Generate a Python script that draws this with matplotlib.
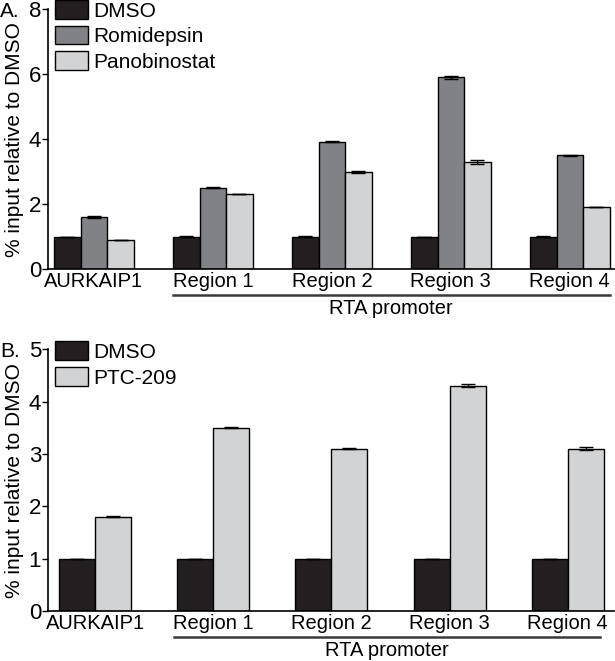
import numpy as np
import matplotlib
matplotlib.use("Agg")
import matplotlib.pyplot as plt
import matplotlib.transforms as mtransforms

plt.rcParams['font.family'] = ['Liberation Sans', 'DejaVu Sans']
plt.rcParams['font.size'] = 15

# Data
categories = ["AURKAIP1", "Region 1", "Region 2", "Region 3", "Region 4"]

# Panel A
dmso_a = [1.0, 1.0, 1.0, 1.0, 1.0]
dmso_a_err = [0.0, 0.01, 0.01, 0.0, 0.01]
romi_a = [1.6, 2.5, 3.92, 5.9, 3.5]
romi_a_err = [0.02, 0.02, 0.02, 0.05, 0.01]
pano_a = [0.9, 2.3, 3.0, 3.3, 1.9]
pano_a_err = [0.0, 0.0, 0.03, 0.07, 0.0]

# Panel B
dmso_b = [1.0, 1.0, 1.0, 1.0, 1.0]
dmso_b_err = [0.0, 0.0, 0.0, 0.0, 0.0]
ptc_b = [1.8, 3.5, 3.1, 4.3, 3.1]
ptc_b_err = [0.01, 0.01, 0.01, 0.03, 0.03]

c_dmso = "#231f20"
c_romi = "#808285"
c_light = "#d1d3d4"

fig = plt.figure(figsize=(6.15, 6.61), dpi=100)
ax1 = fig.add_axes([0.078, 0.593, 0.92, 0.393])
ax2 = fig.add_axes([0.078, 0.0756, 0.92, 0.396])

x = np.arange(len(categories))
ekw = dict(ecolor="black", capsize=5, elinewidth=1, capthick=1)


def style(ax, ymax):
    ax.spines["top"].set_visible(False)
    ax.spines["right"].set_visible(False)
    ax.spines["left"].set_linewidth(1.2)
    ax.spines["bottom"].set_linewidth(1.2)
    ax.set_ylim(0, ymax)
    ax.set_xticks(x)
    ax.set_xticklabels(categories)
    ax.tick_params(axis="x", length=0, pad=2, labelsize=14.5)
    ax.tick_params(axis="y", length=4, width=1, pad=1, labelsize=16)
    ax.set_ylabel("% input relative to DMSO", labelpad=3)


def promoter(ax, x0, x1):
    trans = mtransforms.blended_transform_factory(ax.transData, ax.transAxes)
    ax.plot([x0, x1], [-0.1, -0.1], color="#3a3a3a", lw=1.8,
            transform=trans, clip_on=False)
    ax.text((x0 + x1) / 2, -0.152, "RTA promoter", transform=trans,
            ha="center", va="center", fontsize=14.5)


# Panel A
w = 0.223
ax1.bar(x - w, dmso_a, w, yerr=dmso_a_err, color=c_dmso, edgecolor="black",
        linewidth=1, error_kw=ekw, label="DMSO")
ax1.bar(x, romi_a, w, yerr=romi_a_err, color=c_romi, edgecolor="black",
        linewidth=1, error_kw=ekw, label="Romidepsin")
ax1.bar(x + w, pano_a, w, yerr=pano_a_err, color=c_light, edgecolor="black",
        linewidth=1, error_kw=ekw, label="Panobinostat")
style(ax1, 8)
ax1.set_yticks([0, 2, 4, 6, 8])
ax1.set_xlim(-0.387, 4.37)
promoter(ax1, 1 - 1.5 * w, 4 + 1.5 * w)
ax1.legend(loc="upper left", bbox_to_anchor=(0.012, 1.035), frameon=False,
           handlelength=1.6, handleheight=1.0, handletextpad=0.25,
           labelspacing=0.25, borderpad=0, borderaxespad=0)
fig.text(0.0, 0.982, "A.", ha="left", va="center")

# Panel B
wb = 0.305
ax2.bar(x - wb / 2, dmso_b, wb, yerr=dmso_b_err, color=c_dmso,
        edgecolor="black", linewidth=1, error_kw=ekw, label="DMSO")
ax2.bar(x + wb / 2, ptc_b, wb, yerr=ptc_b_err, color=c_light,
        edgecolor="black", linewidth=1, error_kw=ekw, label="PTC-209")
style(ax2, 5)
ax2.set_yticks([0, 1, 2, 3, 4, 5])
ax2.set_xlim(-0.40, 4.39)
promoter(ax2, 1 - wb - 0.03, 4 + wb - 0.03)
ax2.legend(loc="upper left", bbox_to_anchor=(0.012, 1.03), frameon=False,
           handlelength=1.6, handleheight=1.0, handletextpad=0.25,
           labelspacing=0.25, borderpad=0, borderaxespad=0)
fig.text(0.0, 0.468, "B.", ha="left", va="center")

fig.savefig("out.png", dpi=100)
